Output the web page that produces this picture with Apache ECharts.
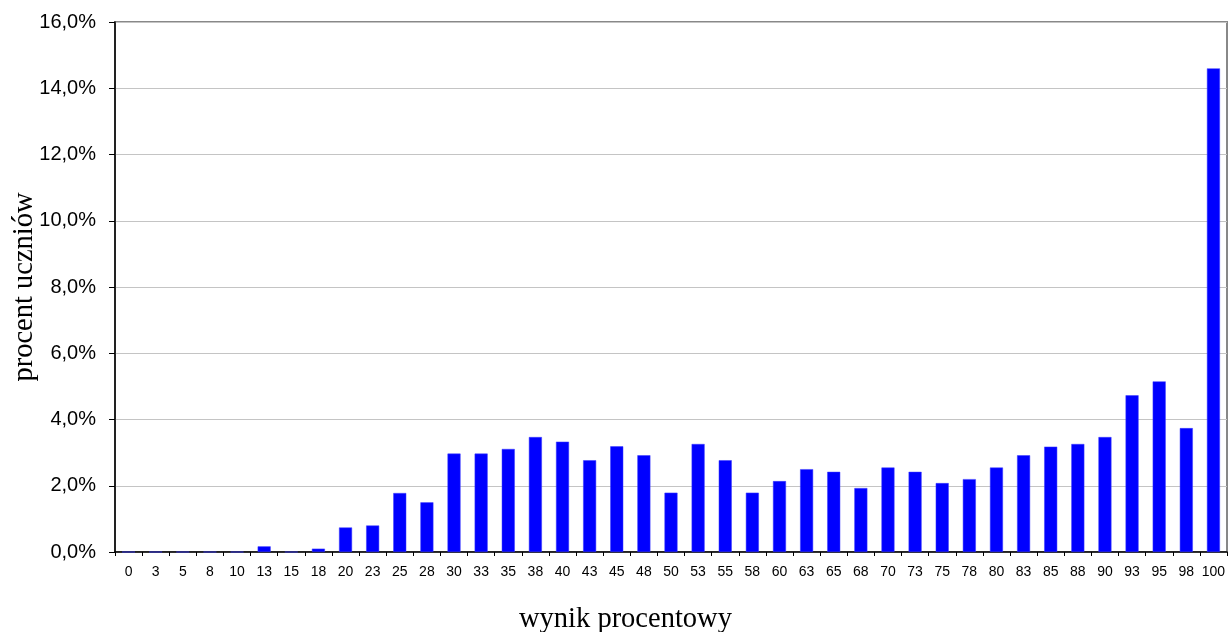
<!DOCTYPE html>
<html>
<head>
<meta charset="utf-8">
<title>wynik procentowy</title>
<script src="https://cdn.jsdelivr.net/npm/echarts@6/dist/echarts.min.js"></script>
<style>
  html, body { margin: 0; padding: 0; background: #fff; }
  #chart { width: 1229px; height: 632px; }
</style>
</head>
<body>
<div id="chart"></div>
<script>
// wynik procentowy (kategorie osi X)
const wyniki = ['0', '3', '5', '8', '10', '13', '15', '18', '20', '23', '25', '28', '30', '33', '35', '38', '40',
  '43', '45', '48', '50', '53', '55', '58', '60', '63', '65', '68', '70', '73', '75', '78', '80', '83', '85',
  '88', '90', '93', '95', '98', '100']
// procent uczniów
const procentUczniow = [0, 0, 0, 0, 0, 0.17, 0, 0.10, 0.74, 0.80, 1.78, 1.50, 2.97, 2.97, 3.11, 3.47, 3.33,
  2.77, 3.19, 2.92, 1.79, 3.26, 2.77, 1.79, 2.14, 2.50, 2.42, 1.93, 2.55, 2.42, 2.08, 2.20, 2.55, 2.92, 3.18,
  3.26, 3.47, 4.73, 5.15, 3.74, 14.60]
// oś Y
const yMin = 0
const yMax = 16
const yStep = 2

const chartDom = echarts.init(document.getElementById('chart'), null, { renderer: 'canvas' })

const option = {
  animation: false,
  backgroundColor: '#fff',
  title: {
    text: 'wynik procentowy',
    left: 514,
    top: 600,
    textStyle: {
      fontFamily: 'Liberation Serif',
      fontSize: 28.5,
      fontWeight: 'normal',
      color: '#000'
    }
  },
  grid: {
    left: 115,
    right: 2,
    top: 22,
    bottom: 80,
    outerBoundsMode: 'none',
    containLabel: false,
    show: true,
    borderColor: '#888',
    borderWidth: 2
  },
  xAxis: {
    type: 'category',
    data: wyniki,
    boundaryGap: true,
    axisLine: { show: true, lineStyle: { color: '#000', width: 1.5 } },
    axisTick: { show: true, length: 4, lineStyle: { color: '#000' } },
    axisLabel: {
      interval: 0,
      margin: 13,
      color: '#000',
      fontFamily: 'Liberation Sans',
      fontSize: 14
    },
    splitLine: { show: false }
  },
  yAxis: {
    type: 'value',
    min: yMin,
    max: yMax,
    interval: yStep,
    name: 'procent uczniów',
    nameLocation: 'middle',
    nameGap: 76,
    nameMoveOverlap: false,
    nameTextStyle: {
      fontFamily: 'Liberation Serif',
      fontSize: 28.5,
      color: '#000'
    },
    axisLine: { show: true, lineStyle: { color: '#000', width: 1.5 } },
    axisTick: { show: true, length: 6, lineStyle: { color: '#000' } },
    axisLabel: {
      margin: 19,
      color: '#000',
      fontFamily: 'Liberation Sans',
      fontSize: 20,
      formatter: v => v.toFixed(1).replace('.', ',') + '%'
    },
    splitLine: { show: true, lineStyle: { color: '#c4c4c4', width: 1 } }
  },
  series: [
    {
      type: 'bar',
      data: procentUczniow,
      barWidth: 13,
      itemStyle: {
        color: '#0000ff',
        borderColor: '#3a3aff',
        borderWidth: 0.5
      }
    }
  ]
}

chartDom.setOption(option)
</script>
</body>
</html>
